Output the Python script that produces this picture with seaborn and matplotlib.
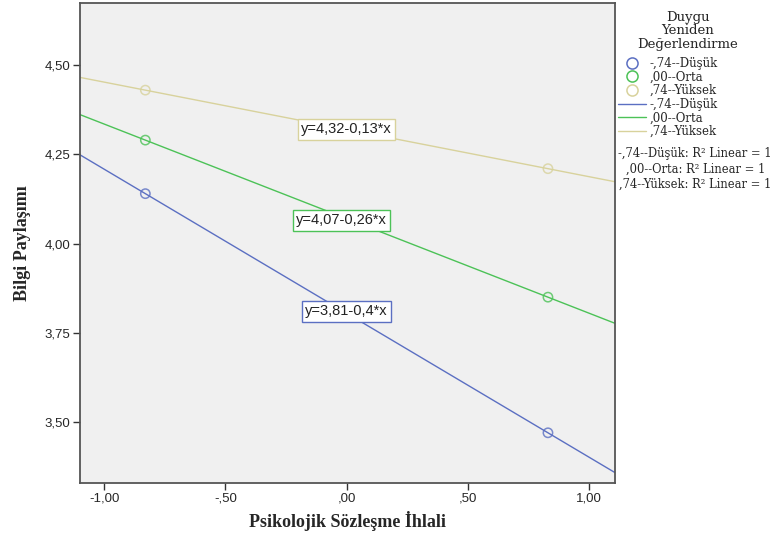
import matplotlib
matplotlib.use("Agg")
import matplotlib.pyplot as plt
import seaborn as sns
import numpy as np
from matplotlib.lines import Line2D

# group means at -1 SD / +1 SD of the predictor
x_pts = [-0.83, 0.83]
groups = ["-,74--Düşük", ",00--Orta", ",74--Yüksek"]
y_pts = {
    "-,74--Düşük": [4.14, 3.47],
    ",00--Orta": [4.29, 3.85],
    ",74--Yüksek": [4.43, 4.21],
}
equations = ["y=3,81-0,4*x", "y=4,07-0,26*x", "y=4,32-0,13*x"]
eq_pos = [(0.0, 3.81), (-0.02, 4.065), (0.0, 4.32)]
colors = ["#5b6fc2", "#4cc257", "#d8d29c"]
xticks = [-1.0, -0.5, 0.0, 0.5, 1.0]
xticklabels = ["-1,00", "-,50", ",00", ",50", "1,00"]
yticks = [3.50, 3.75, 4.00, 4.25, 4.50]
yticklabels = ["3,50", "3,75", "4,00", "4,25", "4,50"]

sns.set_style("white")
serif = ["Liberation Serif", "DejaVu Serif"]
wide_serif = ["DejaVu Serif"]
sans = ["Liberation Sans", "DejaVu Sans"]

fig = plt.figure(figsize=(7.83, 5.40), dpi=100)
ax = fig.add_axes([0.102, 0.106, 0.683, 0.889])
ax.set_facecolor("#f0f0f0")
ax.set_xlim(-1.1, 1.105)
ax.set_ylim(3.33, 4.675)

for g, c in zip(groups, colors):
    sns.regplot(x=x_pts, y=y_pts[g], ax=ax, ci=None, truncate=False,
                scatter_kws=dict(s=45, facecolors="none", edgecolors=c, linewidths=1.1),
                line_kws=dict(color=c, lw=1.0))

for eq, (ex, ey), c in zip(equations, eq_pos, colors):
    ax.text(ex, ey, eq, ha="center", va="center", fontsize=10.5, family=sans,
            color="#222222",
            bbox=dict(boxstyle="square,pad=0.22", fc="white", ec=c, lw=1.0))

ax.set_xticks(xticks)
ax.set_xticklabels(xticklabels, family=sans, fontsize=9.5)
ax.set_yticks(yticks)
ax.set_yticklabels(yticklabels, family=sans, fontsize=9.5)
ax.tick_params(bottom=True, left=True, direction="out", length=5, width=1,
               color="#333333", pad=2)
for s in ax.spines.values():
    s.set_color("#555555")
    s.set_linewidth(1.3)

ax.set_xlabel("Psikolojik Sözleşme İhlali", family=serif, fontweight="bold", fontsize=13, labelpad=5)
ax.set_ylabel("Bilgi Paylaşımı", family=serif, fontweight="bold", fontsize=13, labelpad=10)

# legend title drawn separately so it stays centred above the entries
fig.text(688 / 783, 1 - 31 / 540, "Duygu\nYeniden\nDeğerlendirme", ha="center", va="center",
         multialignment="center", family=wide_serif, fontsize=9.5, linespacing=1.1)

handles = [Line2D([], [], ls="none", marker="o", ms=8, mfc="none", mec=c, mew=1.1) for c in colors]
handles += [Line2D([], [], color=c, lw=1.0) for c in colors]
labels = groups + groups
leg = fig.legend(handles, labels, loc="upper left",
                 bbox_to_anchor=(618 / 783, 1 - 57 / 540), frameon=False, handlelength=2.4,
                 handletextpad=0.25, labelspacing=0.05, borderaxespad=0.0, borderpad=0.0,
                 prop=dict(family=wide_serif, size=8.5))

r2_lines = [g + ": R² Linear = 1" for g in groups]
for i, t in enumerate(r2_lines):
    fig.text(0.888, 1 - (154 + 15 * i) / 540, t, ha="center", va="center",
             family=wide_serif, fontsize=8.3)

fig.savefig("out.png", dpi=100)
